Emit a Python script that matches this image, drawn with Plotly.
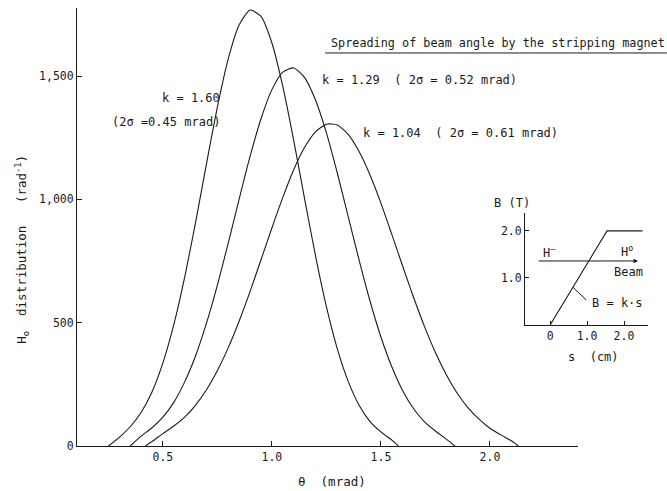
import plotly.graph_objects as go

# ---- main distributions (theta in mrad, H0 distribution in rad^-1) ----
k160_theta = [0.25, 0.30, 0.35, 0.40, 0.45, 0.50, 0.55, 0.60, 0.65, 0.70, 0.75, 0.80, 0.85, 0.90,
              0.95, 1.00, 1.05, 1.10, 1.15, 1.20, 1.25, 1.30, 1.35, 1.40, 1.45, 1.50, 1.55, 1.58]
k160_dist = [0, 35, 78, 136, 219, 337, 492, 685, 907, 1145, 1375, 1571, 1708, 1768,
             1742, 1634, 1458, 1239, 1002, 771, 565, 394, 262, 165, 99, 57, 24, 0]

k129_theta = [0.35, 0.40, 0.45, 0.50, 0.55, 0.60, 0.65, 0.70, 0.75, 0.80, 0.85, 0.90, 0.95, 1.00,
              1.05, 1.10, 1.15, 1.20, 1.25, 1.30, 1.35, 1.40, 1.45, 1.50, 1.55, 1.60, 1.65, 1.70,
              1.75, 1.80, 1.84]
k129_dist = [0, 40, 74, 117, 177, 260, 366, 498, 652, 824, 1002, 1175, 1327, 1445,
             1516, 1533, 1494, 1403, 1270, 1107, 930, 754, 588, 442, 321, 224, 151, 98,
             61, 28, 0]

k104_theta = [0.42, 0.45, 0.50, 0.55, 0.60, 0.65, 0.70, 0.75, 0.80, 0.85, 0.90, 0.95, 1.00, 1.05,
              1.10, 1.15, 1.20, 1.25, 1.30, 1.35, 1.40, 1.45, 1.50, 1.55, 1.60, 1.65, 1.70, 1.75,
              1.80, 1.85, 1.90, 1.95, 2.00, 2.05, 2.10, 2.13]
k104_dist = [0, 18, 50, 81, 117, 166, 228, 306, 399, 507, 627, 755, 884, 1008,
             1120, 1211, 1274, 1305, 1302, 1264, 1194, 1099, 985, 858, 729, 602, 484, 379,
             289, 214, 155, 109, 72, 45, 20, 0]

x_tickvals = [0.5, 1.0, 1.5, 2.0]
x_ticktext = ["0.5", "1.0", "1.5", "2.0"]
y_tickvals = [0, 500, 1000, 1500]
y_ticktext = ["0", "500", "1,000", "1,500"]

# ---- inset: field profile B(s) ----
inset_s = [0.0, 1.54, 2.5]
inset_B = [0.0, 2.0, 2.0]
inset_xticks = [0, 1.0, 2.0]
inset_xtext = ["0", "1.0", "2.0"]
inset_yticks = [1.0, 2.0]
inset_ytext = ["1.0", "2.0"]

FONT = "DejaVu Sans Mono"
INK = "#1a1a1a"
LW = 1.1

fig = go.Figure()
for xs, ys in [(k160_theta, k160_dist), (k129_theta, k129_dist), (k104_theta, k104_dist)]:
    fig.add_trace(go.Scatter(x=xs, y=ys, mode="lines",
                             line=dict(color=INK, width=LW, shape="spline", smoothing=0.6),
                             showlegend=False, hoverinfo="skip"))

fig.add_trace(go.Scatter(x=inset_s, y=inset_B, mode="lines", xaxis="x2", yaxis="y2",
                         line=dict(color=INK, width=LW), showlegend=False, hoverinfo="skip"))

fig.update_layout(
    width=667, height=491,
    margin=dict(l=77, r=10, t=8, b=45),
    paper_bgcolor="white", plot_bgcolor="white",
    font=dict(family=FONT, size=12, color=INK),
    xaxis=dict(domain=[0, 0.8638], range=[0.106, 2.404], showline=True, linecolor=INK,
               linewidth=1, ticks="inside", ticklen=5, tickcolor=INK, tickvals=x_tickvals,
               ticktext=x_ticktext, showgrid=False, zeroline=False,
               tickfont=dict(size=11.5)),
    yaxis=dict(domain=[0, 1], range=[0, 1776], showline=True, linecolor=INK, linewidth=1,
               ticks="inside", ticklen=5, tickcolor=INK, tickvals=y_tickvals,
               ticktext=y_ticktext, showgrid=False, zeroline=False,
               tickfont=dict(size=11.5)),
    xaxis2=dict(domain=[0.7724, 0.9845], range=[-0.68, 2.65], anchor="y2", showline=True,
                linecolor=INK, linewidth=1, ticks="inside", ticklen=4, tickcolor=INK,
                tickvals=inset_xticks, ticktext=inset_xtext, showgrid=False, zeroline=False,
                tickfont=dict(size=11.5)),
    yaxis2=dict(domain=[0.2763, 0.5320], range=[0, 2.38], anchor="x2", showline=True,
                linecolor=INK, linewidth=1, ticks="inside", ticklen=4, tickcolor=INK,
                tickvals=inset_yticks, ticktext=inset_ytext, showgrid=False, zeroline=False,
                tickfont=dict(size=11.5)),
)

ann = []
def txt(x, y, s, xref="x", yref="y", size=12, xanchor="center", angle=0):
    ann.append(dict(x=x, y=y, xref=xref, yref=yref, text=s, showarrow=False,
                    font=dict(family=FONT, size=size, color=INK), xanchor=xanchor,
                    yanchor="middle", textangle=angle))

# titles
txt(0.726, 0.920, "Spreading of beam angle by the stripping magnet", "paper", "paper", size=11.8)
txt(0.44, -0.08, "θ  (mrad)", "paper", "paper", size=12.5)
txt(-0.095, 0.45, "H<sub>o</sub>  distribution   (rad<sup>-1</sup>)", "paper", "paper",
    size=12.5, angle=-90)

# curve labels
txt(0.628, 1411, "k = 1.60")
txt(0.514, 1313, "(2σ =0.45 mrad)")
txt(1.22, 1483, "k = 1.29  ( 2σ = 0.52 mrad)", xanchor="left")
txt(1.41, 1269, "k = 1.04  ( 2σ = 0.61 mrad)", xanchor="left")

# inset labels
txt(-0.03, 1.55, "H<sup>–</sup>", "x2", "y2")
txt(2.08, 1.57, "H<sup>o</sup>", "x2", "y2")
txt(2.11, 1.13, "Beam", "x2", "y2")
txt(1.08, 0.47, "B = k·s", "x2", "y2", xanchor="left")
txt(0.891, 0.203, "s  (cm)", "paper", "paper")
txt(0.75, 0.555, "B (T)", "paper", "paper")

# beam arrow
ann.append(dict(x=2.38, y=1.36, xref="x2", yref="y2", ax=-0.35, ay=1.36, axref="x2",
                ayref="y2", showarrow=True, arrowhead=2, arrowsize=0.9, arrowwidth=1,
                arrowcolor=INK, text=""))
fig.update_layout(annotations=ann)

# underline of title, pointer line in inset
fig.add_shape(type="line", xref="paper", yref="paper", x0=0.4276, x1=1.017, y0=0.8973,
              y1=0.8973, line=dict(color=INK, width=1))
fig.add_shape(type="line", xref="x2", yref="y2", x0=0.62, y0=0.80, x1=0.98, y1=0.53,
              line=dict(color=INK, width=1))

fig.write_html("out.html")
